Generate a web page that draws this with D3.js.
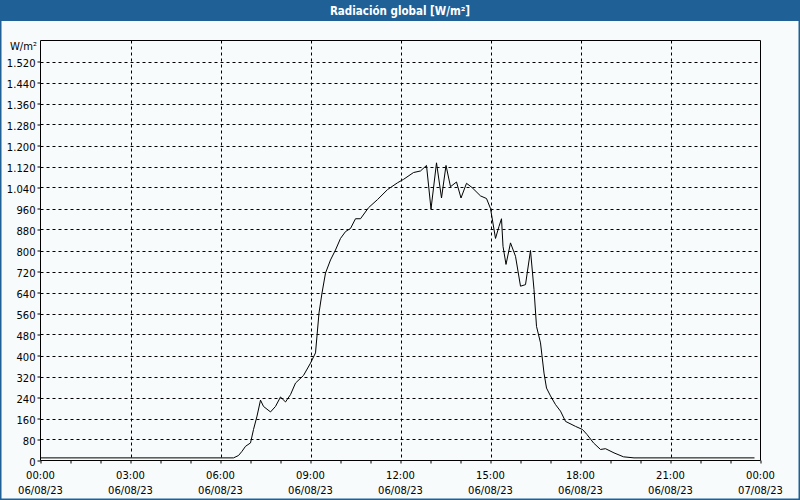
<!DOCTYPE html>
<html>
<head>
<meta charset="utf-8">
<script src="https://cdn.jsdelivr.net/npm/d3@7"></script>
<style>
  html, body { margin: 0; padding: 0; background: #f8fbfb; }
  svg { display: block; }
</style>
</head>
<body>
<svg id="chart" width="800" height="500"></svg>
<script>
// ---- data ----
const title = "Radiación global [W/m²]";
const unitLabel = "W/m²";
const times = ["00:00","06:26","06:36","06:43","06:50","07:00","07:06","07:13","07:20","07:26","07:40","07:50","08:00","08:10","08:20","08:30","08:46","09:00","09:10","09:17","09:23","09:30","09:40","09:50","10:00","10:10","10:20","10:30","10:40","10:56","11:14","11:34","11:54","12:06","12:26","12:40","12:52","13:01","13:12","13:22","13:31","13:40","13:52","14:01","14:12","14:23","14:40","14:52","15:00","15:10","15:17","15:22","15:25","15:31","15:40","15:50","16:00","16:10","16:20","16:27","16:32","16:40","16:47","16:52","17:00","17:10","17:20","17:30","17:50","18:04","18:13","18:26","18:40","18:50","19:07","19:26","19:47","23:48"];
const values = [10,10,19,35,54,67,118,169,230,206,185,206,242,223,251,295,324,371,410,562,638,714,764,802,846,872,884,921,921,963,994,1032,1058,1071,1097,1103,1124,958,1134,1000,1124,1043,1061,1000,1056,1040,1008,998,960,846,892,921,816,747,829,778,664,670,800,651,511,448,333,276,246,213,188,149,130,118,99,67,42,45,29,14,10,10];
const yTicks = [0,80,160,240,320,400,480,560,640,720,800,880,960,1040,1120,1200,1280,1360,1440,1520];
const xTickLabels = ["00:00","03:00","06:00","09:00","12:00","15:00","18:00","21:00","00:00"];
const xDateLabels = ["06/08/23","06/08/23","06/08/23","06/08/23","06/08/23","06/08/23","06/08/23","06/08/23","07/08/23"];

// ---- layout ----
const svg = d3.select("#chart");
const W = 800, H = 500;
const pLeft = 40.5, pRight = 760.5, pTop = 40.5, pBottom = 460.5;
const FONT = "DejaVu Sans, Verdana, sans-serif";

const toHours = s => { const [h, m] = s.split(":").map(Number); return h + m / 60; };
const x = d3.scaleLinear().domain([0, 24]).range([pLeft, pRight]);
const y = d3.scaleLinear().domain([0, 1600]).range([pBottom, pTop]);

// background + outer border
svg.append("rect").attr("x", 0).attr("y", 0).attr("width", W).attr("height", H).attr("fill", "#f8fbfb");
svg.append("rect").attr("x", 0.75).attr("y", 0.75).attr("width", W - 1.5).attr("height", H - 1.5)
  .attr("fill", "none").attr("stroke", "#1f6096").attr("stroke-width", 1.5);

// title bar
svg.append("rect").attr("x", 0).attr("y", 0).attr("width", W).attr("height", 21).attr("fill", "#1f6096");
svg.append("text").attr("x", 400).attr("y", 15).attr("text-anchor", "middle")
  .attr("fill", "#ffffff").attr("font-family", "DejaVu Sans Condensed, DejaVu Sans, sans-serif")
  .attr("font-size", 11.5).attr("font-weight", "bold")
  .text(title);

// horizontal dashed grid
svg.append("g").selectAll("line").data(yTicks.filter(d => d > 0)).join("line")
  .attr("x1", pLeft).attr("x2", pRight)
  .attr("y1", d => Math.round(y(d)) + 0.5).attr("y2", d => Math.round(y(d)) + 0.5)
  .attr("stroke", "#000").attr("stroke-width", 1).attr("stroke-dasharray", "3,3");

// vertical dashed grid
const gridHours = d3.range(3, 24, 3);
svg.append("g").selectAll("line").data(gridHours).join("line")
  .attr("x1", d => Math.round(x(d)) + 0.5).attr("x2", d => Math.round(x(d)) + 0.5)
  .attr("y1", pTop).attr("y2", pBottom)
  .attr("stroke", "#000").attr("stroke-width", 1).attr("stroke-dasharray", "3,3");

// frame
svg.append("path")
  .attr("d", `M${pLeft},${pBottom}V${pTop}H${pRight}V${pBottom}`)
  .attr("fill", "none").attr("stroke", "#000").attr("stroke-width", 1);

// x axis
const xAxis = d3.axisBottom(x).tickValues(d3.range(0, 25, 1)).tickSize(3).tickFormat("");
const gx = svg.append("g").attr("transform", `translate(0,${pBottom})`).call(xAxis);
gx.select(".domain").attr("stroke", "#000").attr("d", `M${pLeft},0H${pRight}`);
gx.selectAll(".tick line").attr("stroke", "#000");

svg.append("g").selectAll("text").data(xTickLabels).join("text")
  .attr("x", (d, i) => x(i * 3)).attr("y", 479)
  .attr("text-anchor", "middle").attr("font-family", FONT).attr("font-size", 10).attr("fill", "#000")
  .text(d => d);
svg.append("g").selectAll("text").data(xDateLabels).join("text")
  .attr("x", (d, i) => x(i * 3)).attr("y", 494)
  .attr("text-anchor", "middle").attr("font-family", FONT).attr("font-size", 10).attr("fill", "#000")
  .text(d => d);

// y axis
const yAxis = d3.axisLeft(y).tickValues(yTicks).tickSize(3)
  .tickFormat(d => d3.format(",")(d).replace(/,/g, "."));
const gy = svg.append("g").attr("transform", `translate(${pLeft},0)`).call(yAxis);
gy.select(".domain").remove();
gy.selectAll(".tick line").attr("stroke", "#000");
gy.selectAll(".tick text").attr("x", -5).attr("dy", "0.45em").attr("font-family", FONT).attr("font-size", 10).attr("fill", "#000");

svg.append("text").attr("x", 37).attr("y", 50).attr("text-anchor", "end")
  .attr("font-family", FONT).attr("font-size", 10).attr("fill", "#000").text(unitLabel);

// data line
const pts = times.map((t, i) => ({ t: toHours(t), v: values[i] }));
const line = d3.line().x(d => x(d.t)).y(d => y(d.v));
svg.append("path").datum(pts).attr("d", line)
  .attr("fill", "none").attr("stroke", "#000").attr("stroke-width", 1);
</script>
</body>
</html>
